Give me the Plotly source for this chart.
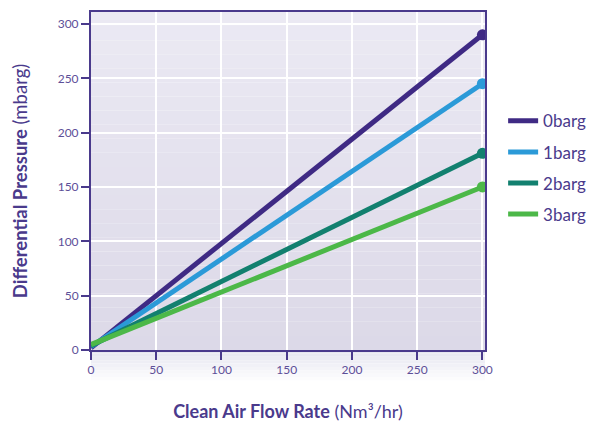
import plotly.graph_objects as go

# ---- data ----
series_names = ["0barg", "1barg", "2barg", "3barg"]
flow_rate = [0, 300]                      # Nm3/hr
pressure_0barg = [2, 290]                 # mbarg
pressure_1barg = [3, 245]
pressure_2barg = [4, 181]
pressure_3barg = [5, 150]
x_ticks = [0, 50, 100, 150, 200, 250, 300]
y_ticks = [0, 50, 100, 150, 200, 250, 300]

series_values = [pressure_0barg, pressure_1barg, pressure_2barg, pressure_3barg]
colors = ["#3f2a84", "#2b9ad8", "#12806f", "#4cb848"]

purple = "#4a3a8c"
tick_col = "#5d4f98"
font_family = "Lato, 'Noto Sans', sans-serif"

fig = go.Figure()
for name, vals, col in zip(series_names, series_values, colors):
    fig.add_trace(go.Scatter(
        x=flow_rate, y=vals, name=name, legendgroup=name,
        mode="lines",
        line=dict(color=col, width=5),
    ))
    fig.add_trace(go.Scatter(
        x=flow_rate[-1:], y=vals[-1:], name=name, legendgroup=name,
        mode="markers", showlegend=False,
        marker=dict(color=col, size=11),
    ))

# gradient background (stepped bands) inside plot + fade below x axis
shapes = []
n = 24
top = (0xeb, 0xe9, 0xf3)
bot = (0xdc, 0xd9, 0xe8)
for i in range(n):
    t = i / (n - 1)
    c = tuple(round(top[k] + (bot[k] - top[k]) * t) for k in range(3))
    shapes.append(dict(type="rect", xref="paper", yref="paper",
                       x0=0, x1=1, y0=1 - (i + 1) / n, y1=1 - i / n,
                       fillcolor="rgb(%d,%d,%d)" % c, line=dict(width=0), layer="below"))
m = 10
for i in range(m):
    t = i / (m - 1)
    c = tuple(round(0xe6 + (255 - 0xe6) * t) if k < 2 else round(0xf0 + (255 - 0xf0) * t) for k in range(3))
    shapes.append(dict(type="rect", xref="paper", yref="paper",
                       x0=0, x1=1, y0=-0.1 * (i + 1) / m, y1=-0.1 * i / m,
                       fillcolor="rgb(%d,%d,%d)" % c, line=dict(width=0), layer="below"))

fig.update_layout(
    width=595, height=421,
    margin=dict(l=83, r=118, t=4, b=79, autoexpand=False),
    paper_bgcolor="white",
    plot_bgcolor="rgba(0,0,0,0)",
    font=dict(family=font_family, color=purple),
    showlegend=True,
    legend=dict(x=1.046, y=0.73, xanchor="left", yanchor="top",
                font=dict(size=17, color=purple, family=font_family),
                tracegroupgap=6, bgcolor="rgba(0,0,0,0)"),
    shapes=shapes,
    xaxis=dict(
        range=[0, 302], tickvals=x_ticks, automargin=False,
        showgrid=True, gridcolor="white", gridwidth=1.5, zeroline=False,
        showline=True, linecolor=purple, linewidth=2, mirror=True,
        ticks="outside", ticklen=8, tickwidth=2, tickcolor=purple,
        tickfont=dict(size=12, color=tick_col),
        title=dict(text="<b>Clean Air Flow Rate</b> (Nm³/hr)",
                   font=dict(size=18, color=purple), standoff=29),
    ),
    yaxis=dict(
        range=[0, 311], tickvals=y_ticks, automargin=False,
        showgrid=True, gridcolor="white", gridwidth=1.5, zeroline=False,
        showline=True, linecolor=purple, linewidth=2, mirror=True,
        ticks="outside", ticklen=8, tickwidth=2, tickcolor=purple,
        tickfont=dict(size=12, color=tick_col),
        title=dict(text="<b>Differential Pressure</b> (mbarg)",
                   font=dict(size=18.5, color=purple), standoff=25),
    ),
)

fig.write_html("out.html")
